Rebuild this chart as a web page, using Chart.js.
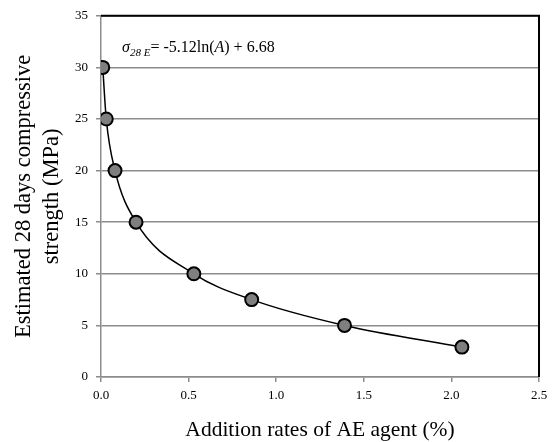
<!DOCTYPE html>
<html>
<head>
<meta charset="utf-8">
<script src="https://cdn.jsdelivr.net/npm/chart.js@4"></script>
<style>
  html, body { margin: 0; padding: 0; background: #fff; }
  #wrap { width: 555px; height: 442px; }
</style>
</head>
<body>
<div id="wrap"><canvas id="myChart"></canvas></div>
<script>
// values
const addRates = [0.01, 0.03, 0.08, 0.20, 0.53, 0.86, 1.39, 2.06]
const strength = [30, 25, 20, 15, 10, 7.5, 5, 2.9]
const xTitle = 'Addition rates of AE agent (%)'
const yTitle = ['Estimated 28 days compressive', 'strength (MPa)']
// equation label, anchored in data units
const eqAt = { x: 0.12, y: 31.45 }

Chart.defaults.font.family = "'Liberation Serif', 'Times New Roman', serif"
Chart.defaults.color = '#000'

// black frame on top and right, plus the fitted equation
const frameAndEq = {
    id: 'frameAndEq',
    afterDraw(chart) {
        const { ctx, chartArea: a, scales } = chart
        ctx.save()
        ctx.strokeStyle = '#000'
        ctx.lineWidth = 2
        ctx.beginPath()
        ctx.moveTo(a.left, a.top)
        ctx.lineTo(a.right, a.top)
        ctx.lineTo(a.right, a.bottom)
        ctx.stroke()

        let x = scales.x.getPixelForValue(eqAt.x)
        const y = scales.y.getPixelForValue(eqAt.y)
        const big = "16px 'Liberation Serif'"
        const bigI = "italic 16px 'Liberation Serif'"
        const small = "italic 11px 'Liberation Serif'"
        const parts = [
            [bigI, 'σ', 0],
            [small, '28 E', 4],
            [big, '= -5.12ln(', 0],
            [bigI, 'A', 0],
            [big, ') + 6.68', 0]
        ]
        ctx.fillStyle = '#000'
        ctx.textBaseline = 'alphabetic'
        ctx.textAlign = 'left'
        parts.forEach(p => {
            ctx.font = p[0]
            ctx.fillText(p[1], x, y + p[2])
            x += ctx.measureText(p[1]).width
        })
        ctx.restore()
    }
}

new Chart(document.getElementById('myChart'), {
    type: 'line',
    data: {
        datasets: [{
            data: addRates.map((v, i) => ({ x: v, y: strength[i] })),
            borderColor: '#000',
            borderWidth: 1.5,
            cubicInterpolationMode: 'monotone',
            pointRadius: 6.5,
            pointHoverRadius: 6.5,
            pointBackgroundColor: '#7f7f7f',
            pointBorderColor: '#000',
            pointBorderWidth: 2,
            fill: false
        }]
    },
    options: {
        responsive: true,
        maintainAspectRatio: false,
        animation: false,
        layout: { padding: { top: 15, right: 16, left: 0, bottom: 0 } },
        plugins: {
            legend: { display: false },
            tooltip: { enabled: false }
        },
        scales: {
            x: {
                type: 'linear',
                min: 0,
                max: 2.5,
                afterFit: (s) => { s.height = 65 },
                ticks: {
                    stepSize: 0.5,
                    padding: 6,
                    font: { size: 13 },
                    callback: (v) => v.toFixed(1)
                },
                grid: {
                    drawOnChartArea: false,
                    drawTicks: true,
                    tickLength: 5,
                    color: '#8c8c8c',
                    lineWidth: 1.5
                },
                border: { color: '#8c8c8c', width: 1.5 },
                title: {
                    display: true,
                    text: xTitle,
                    font: { size: 21.5, lineHeight: 1.116 },
                    padding: { top: 0, bottom: 0 }
                }
            },
            y: {
                min: 0,
                max: 35,
                afterFit: (s) => { s.width = 101 },
                ticks: {
                    stepSize: 5,
                    padding: 8,
                    font: { size: 13 }
                },
                grid: {
                    color: '#8c8c8c',
                    lineWidth: 1.5,
                    tickLength: 5
                },
                border: { color: '#8c8c8c', width: 1.5 },
                title: {
                    display: true,
                    text: yTitle,
                    font: { size: 22.5, lineHeight: 1.244 },
                    padding: { top: 10, bottom: 0 }
                }
            }
        }
    },
    plugins: [frameAndEq]
})
</script>
</body>
</html>
